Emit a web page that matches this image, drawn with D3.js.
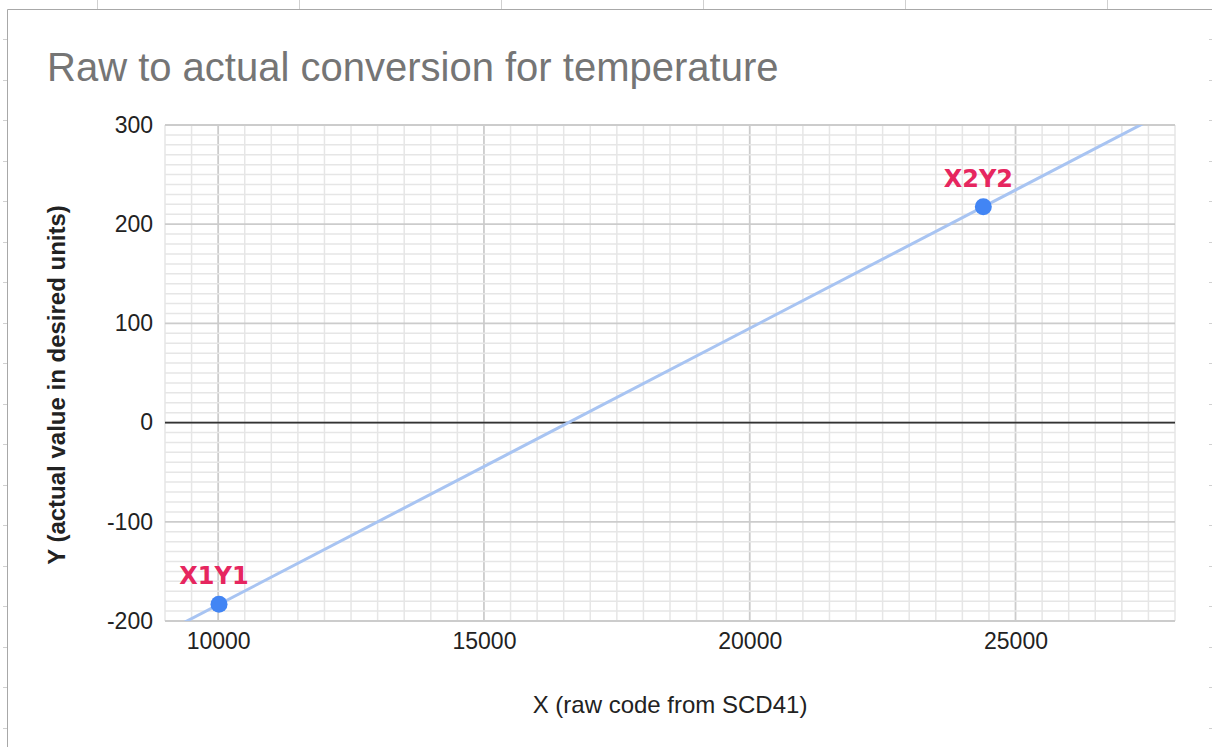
<!DOCTYPE html>
<html><head><meta charset="utf-8">
<script src="https://cdn.jsdelivr.net/npm/d3@7"></script>
<style>html,body{margin:0;padding:0;background:#fff;}svg{display:block;}</style>
</head><body>
<script>
// ---- data ----
const pointLabels = ["X1Y1", "X2Y2"];
const xValues = [10016, 24394];
const yValues = [-183.2, 217.6];
const xTicks = [10000, 15000, 20000, 25000];
const yTicks = [-200, -100, 0, 100, 200, 300];
const title = "Raw to actual conversion for temperature";
const xTitle = "X (raw code from SCD41)";
const yTitle = "Y (actual value in desired units)";

const W = 1212, H = 747;
const svg = d3.select("body").append("svg").attr("width", W).attr("height", H);

// spreadsheet background cell marks
const g0 = svg.append("g").attr("stroke", "#d0d0d0").attr("stroke-width", 1);
[97, 299, 501, 703, 905, 1107].forEach(x => g0.append("line").attr("x1", x + .5).attr("x2", x + .5).attr("y1", 0).attr("y2", 9));
d3.range(39, 747, 40.5).forEach(y => {
  g0.append("line").attr("x1", 3).attr("x2", 7).attr("y1", Math.round(y) + .5).attr("y2", Math.round(y) + .5);
  g0.append("line").attr("x1", 1209).attr("x2", 1212).attr("y1", Math.round(y) + .5).attr("y2", Math.round(y) + .5);
});
// chart frame
svg.append("path").attr("d", `M7.5,747 V9.5 H1212`).attr("fill", "none").attr("stroke", "#a8a8a8").attr("stroke-width", 1);

const x = d3.scaleLinear().domain([9000, 28000]).range([165, 1175]);
const y = d3.scaleLinear().domain([-200, 300]).range([621, 125]);

const grid = svg.append("g");
// gridlines
d3.range(9000, 28001, 500).forEach(v => {
  grid.append("line").attr("x1", x(v)).attr("x2", x(v)).attr("y1", y(-200)).attr("y2", y(300))
    .attr("stroke", v % 5000 === 0 ? "#cccccc" : "#e6e6e6").attr("stroke-width", v % 5000 === 0 ? 1.8 : 1.5);
});
d3.range(-200, 301, 10).forEach(v => {
  grid.append("line").attr("x1", x(9000)).attr("x2", x(28000)).attr("y1", y(v)).attr("y2", y(v))
    .attr("stroke", v % 100 === 0 ? "#cccccc" : "#e6e6e6").attr("stroke-width", v % 100 === 0 ? 1.8 : 1.5);
});
// zero baseline
grid.append("line").attr("x1", x(9000)).attr("x2", x(28000)).attr("y1", y(0)).attr("y2", y(0))
  .attr("stroke", "#333333").attr("stroke-width", 1.8);

const fmt = d => String(d);
// axes (labels only)
const xAxis = svg.append("g").attr("transform", `translate(0,${y(-200)})`)
  .call(d3.axisBottom(x).tickValues(xTicks).tickFormat(fmt).tickSize(0).tickPadding(12));
xAxis.select(".domain").remove();
xAxis.selectAll("text").attr("font-family", "Liberation Sans, Arial, sans-serif").attr("font-size", 23).attr("fill", "#222");
const yAxis = svg.append("g").attr("transform", `translate(${x(9000)},0)`)
  .call(d3.axisLeft(y).tickValues(yTicks).tickFormat(fmt).tickSize(0).tickPadding(12));
yAxis.select(".domain").remove();
yAxis.selectAll("text").attr("font-family", "Liberation Sans, Arial, sans-serif").attr("font-size", 23).attr("fill", "#222");

// trendline (linear fit through the points)
const mx = d3.mean(xValues), my = d3.mean(yValues);
const slope = d3.sum(xValues.map((v, i) => (v - mx) * (yValues[i] - my))) / d3.sum(xValues.map(v => (v - mx) ** 2));
const icpt = my - slope * mx;
svg.append("clipPath").attr("id", "plot").append("rect")
  .attr("x", x(9000)).attr("y", y(300)).attr("width", x(28000) - x(9000)).attr("height", y(-200) - y(300));
svg.append("line").attr("clip-path", "url(#plot)")
  .attr("x1", x(9000)).attr("y1", y(slope * 9000 + icpt))
  .attr("x2", x(28000)).attr("y2", y(slope * 28000 + icpt))
  .attr("stroke", "#a8c4f2").attr("stroke-width", 3);

// points
svg.selectAll("circle.pt").data(xValues).enter().append("circle")
  .attr("cx", (d) => x(d)).attr("cy", (d, i) => y(yValues[i])).attr("r", 8.5).attr("fill", "#4285f4");
// labels
svg.selectAll("text.lbl").data(pointLabels).enter().append("text")
  .attr("x", (d, i) => x(xValues[i]) - 5).attr("y", (d, i) => y(yValues[i]) - 20)
  .attr("text-anchor", "middle").attr("font-family", "DejaVu Sans, Verdana, sans-serif")
  .attr("font-weight", "bold").attr("font-size", 24).attr("fill", "#e6265f").text(d => d);

// titles
svg.append("text").attr("x", 47).attr("y", 81).attr("font-family", "Liberation Sans, Arial, sans-serif")
  .attr("font-size", 40).attr("fill", "#757575").text(title);
svg.append("text").attr("x", 670).attr("y", 713).attr("text-anchor", "middle")
  .attr("font-family", "Liberation Sans, Arial, sans-serif").attr("font-size", 24).attr("fill", "#222").text(xTitle);
svg.append("text").attr("transform", "translate(65,385) rotate(-90)").attr("text-anchor", "middle")
  .attr("font-family", "Liberation Sans, Arial, sans-serif").attr("font-weight", "bold").attr("font-size", 24).attr("fill", "#222").text(yTitle);
</script>
</body></html>
